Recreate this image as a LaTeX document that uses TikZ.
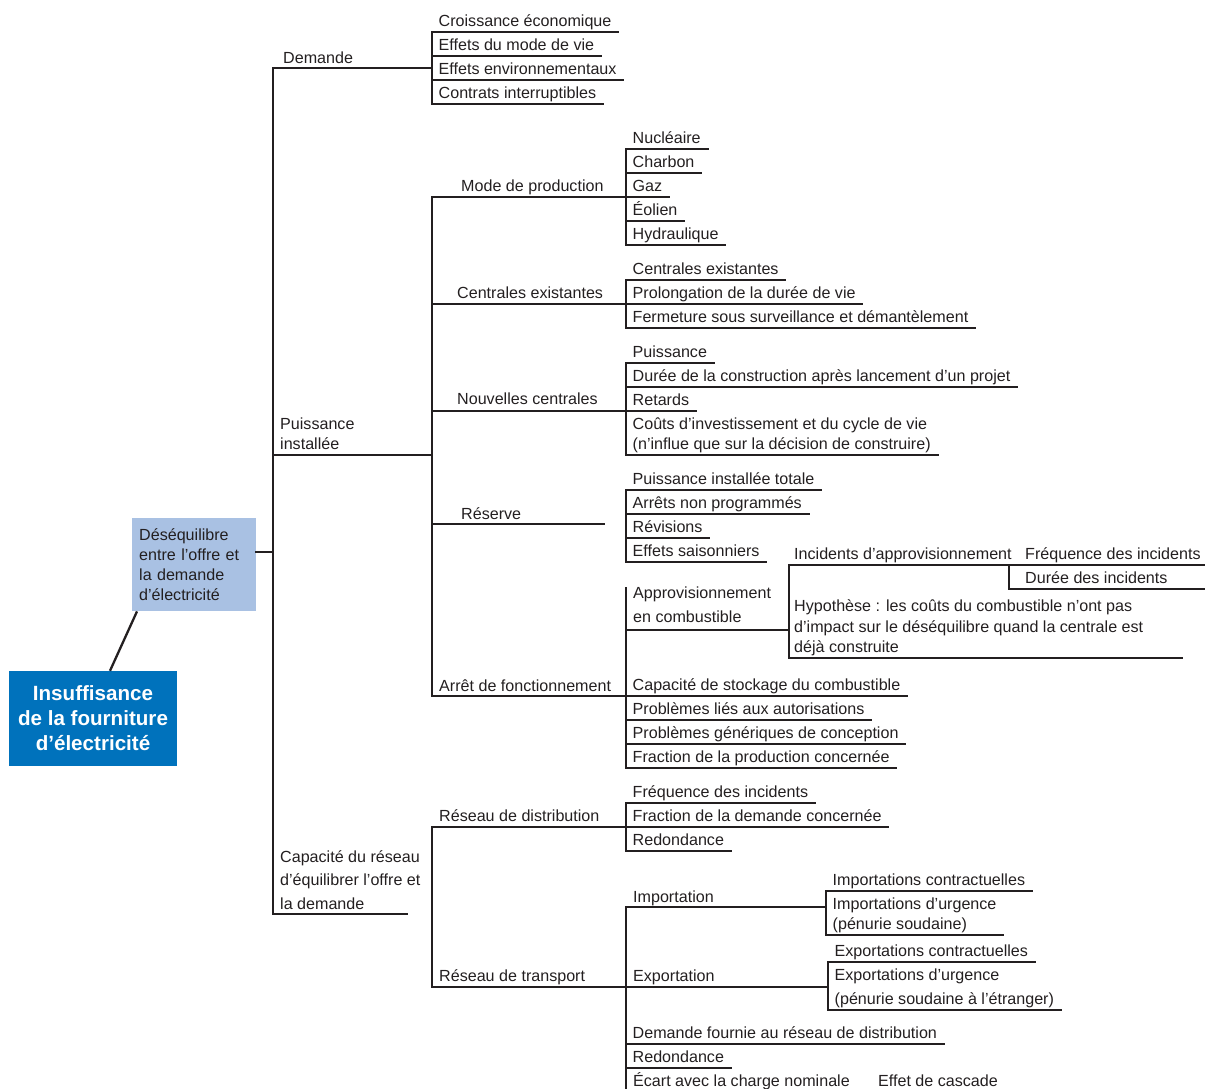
\documentclass[tikz,border=0pt]{standalone}
\usepackage{fontspec}
\setmainfont{Liberation Sans}
\definecolor{ink}{RGB}{35,31,32}
\definecolor{titleblue}{RGB}{0,114,188}
\definecolor{paleblue}{RGB}{169,193,227}
\begin{document}
\begin{tikzpicture}[x=1pt,y=-1pt,
  ln/.style={draw=ink,line width=2.3pt,line cap=rect},
  txt/.style={text=ink,font=\fontsize{16.1pt}{20pt}\selectfont,inner sep=0pt},
  lab/.style={txt,anchor=base west},
  mlab/.style={txt,anchor=south west,text depth=0pt,align=left},
  it/.style={txt,anchor=south west,inner xsep=6.5pt,inner ysep=5.3pt,text depth=0pt,align=left,
    append after command={(\tikzlastnode.south west) edge[ln] (\tikzlastnode.south east)}},
  f24/.style={font=\fontsize{16.1pt}{24pt}\selectfont}]
\useasboundingbox (0,0) rectangle (1205,1089);

% root boxes
\node[fill=titleblue,minimum width=168pt,minimum height=95pt,text=white,
  font=\fontsize{20.6pt}{25pt}\selectfont\bfseries,align=center,inner sep=0pt]
  (title) at (93,718.5) {Insuffisance\\de la fourniture\\d’électricité};
\node[fill=paleblue,anchor=north west,minimum width=124pt,minimum height=93pt,
  text width=110pt,inner xsep=7pt,inner ysep=0pt,align=left,text=ink,
  font=\fontsize{16.1pt}{20pt}\selectfont]
  (deseq) at (132,518) {Déséquilibre\\entre l’offre et\\la demande\\d’électricité};
\draw[ln,line cap=butt] (title.north -| 110,0) -- (deseq.south -| 137,0);
\draw[ln] (deseq.east |- 0,552) -- (273,552);

% main trunk
\draw[ln] (273,68) -- (273,914);

% Demande
\draw[ln] (273,68) -- (432,68);
\node[lab] (dem) at (283,63.5) {Demande};
\node[it] (d1) at (432,32) {Croissance économique};
\node[it] (d2) at (432,56) {Effets du mode de vie};
\node[it] (d3) at (432,80) {Effets environnementaux};
\node[it] (d4) at (432,104) {Contrats interruptibles};
\draw[ln] (d1.south west) -- (d4.south west);

% Puissance installee
\draw[ln] (273,455) -- (432,455);
\node[mlab] (pui) at (280,449.5) {Puissance\\installée};
\draw[ln] (432,197) -- (432,696);

% Mode de production
\draw[ln] (432,197) -- (626,197);
\node[lab] (mode) at (461,191) {Mode de production};
\node[it] (m1) at (626,149) {Nucléaire};
\node[it] (m2) at (626,173) {Charbon};
\node[it] (m3) at (626,197) {Gaz};
\node[it] (m4) at (626,221) {Éolien};
\node[it] (m5) at (626,245) {Hydraulique};
\draw[ln] (m1.south west) -- (m5.south west);

% Centrales existantes
\draw[ln] (432,304) -- (626,304);
\node[lab] (cex) at (457,298) {Centrales existantes};
\node[it] (c1) at (626,280) {Centrales existantes};
\node[it] (c2) at (626,304) {Prolongation de la durée de vie};
\node[it] (c3) at (626,328) {Fermeture sous surveillance et démantèlement};
\draw[ln] (c1.south west) -- (c3.south west);

% Nouvelles centrales
\draw[ln] (432,411) -- (626,411);
\node[lab] (nc) at (457,404) {Nouvelles centrales};
\node[it] (n1) at (626,363) {Puissance};
\node[it] (n2) at (626,387) {Durée de la construction après lancement d’un projet};
\node[it] (n3) at (626,411) {Retards};
\node[it] (n4) at (626,455) {Coûts d’investissement et du cycle de vie\\(n’influe que sur la décision de construire)};
\draw[ln] (n1.south west) -- (n4.south west);

% Reserve
\draw[ln] (432,524) -- (604,524);
\node[lab] (res) at (461,519) {Réserve};
\node[it] (r1) at (626,490) {Puissance installée totale};
\node[it] (r2) at (626,514) {Arrêts non programmés};
\node[it] (r3) at (626,538) {Révisions};
\node[it] (r4) at (626,562) {Effets saisonniers};
\draw[ln] (r1.south west) -- (r4.south west);

% Arret de fonctionnement
\draw[ln] (432,696) -- (626,696);
\node[lab] (arr) at (439,691) {Arrêt de fonctionnement};
\draw[ln] (626,588) -- (626,768);
\node[mlab,f24] (appro) at (633,623) {Approvisionnement\\en combustible};
\draw[ln] (626,630) -- (789,630);
\draw[ln] (789,565) -- (789,658);
\node[lab] (inc) at (794,559) {Incidents d’approvisionnement};
\draw[ln] (789,565) -- (1205,565);
\node[lab] (freq) at (1025,559) {Fréquence des incidents};
\draw[ln] (1009,565) -- (1009,589);
\node[lab] (dur) at (1025,583) {Durée des incidents};
\draw[ln] (1009,589) -- (1205,589);
\node[mlab,font=\fontsize{16.1pt}{20.5pt}\selectfont] (hyp) at (794,653)
  {Hypothèse : les coûts du combustible n’ont pas\\d’impact sur le déséquilibre quand la centrale est\\déjà construite};
\draw[ln] (789,658) -- (1182,658);
\node[it] (a1) at (626,696) {Capacité de stockage du combustible};
\node[it] (a2) at (626,720) {Problèmes liés aux autorisations};
\node[it] (a3) at (626,744) {Problèmes génériques de conception};
\node[it] (a4) at (626,768) {Fraction de la production concernée};

% Capacite du reseau
\draw[ln] (273,914) -- (407,914);
\node[mlab,font=\fontsize{16.1pt}{23.5pt}\selectfont] (cap) at (280,909.5)
  {Capacité du réseau\\d’équilibrer l’offre et\\la demande};
\draw[ln] (432,827) -- (432,987);

% Reseau de distribution
\draw[ln] (432,827) -- (626,827);
\node[lab] (rd) at (439,821) {Réseau de distribution};
\node[it] (rd1) at (626,803) {Fréquence des incidents};
\node[it] (rd2) at (626,827) {Fraction de la demande concernée};
\node[it] (rd3) at (626,851) {Redondance};
\draw[ln] (rd1.south west) -- (rd3.south west);

% Reseau de transport
\draw[ln] (432,987) -- (626,987);
\node[lab] (rt) at (439,981) {Réseau de transport};
\draw[ln] (626,907) -- (626,1095);
\draw[ln] (626,907) -- (826,907);
\node[lab] (imp) at (633,902) {Importation};
\node[it] (i1) at (826,891) {Importations contractuelles};
\node[it] (i2) at (826,935) {Importations d’urgence\\(pénurie soudaine)};
\draw[ln] (i1.south west) -- (i2.south west);
\draw[ln] (626,987) -- (828,987);
\node[lab] (exp) at (633,981) {Exportation};
\node[it] (e1) at (828,962) {Exportations contractuelles};
\node[it,f24] (e2) at (828,1010) {Exportations d’urgence\\(pénurie soudaine à l’étranger)};
\draw[ln] (e1.south west) -- (e2.south west);
\node[it] (t1) at (626,1044) {Demande fournie au réseau de distribution};
\node[it] (t2) at (626,1068) {Redondance};
\node[lab] (t3) at (633,1086) {Écart avec la charge nominale};
\node[lab] (t4) at (878,1086) {Effet de cascade};
\end{tikzpicture}
\end{document}
